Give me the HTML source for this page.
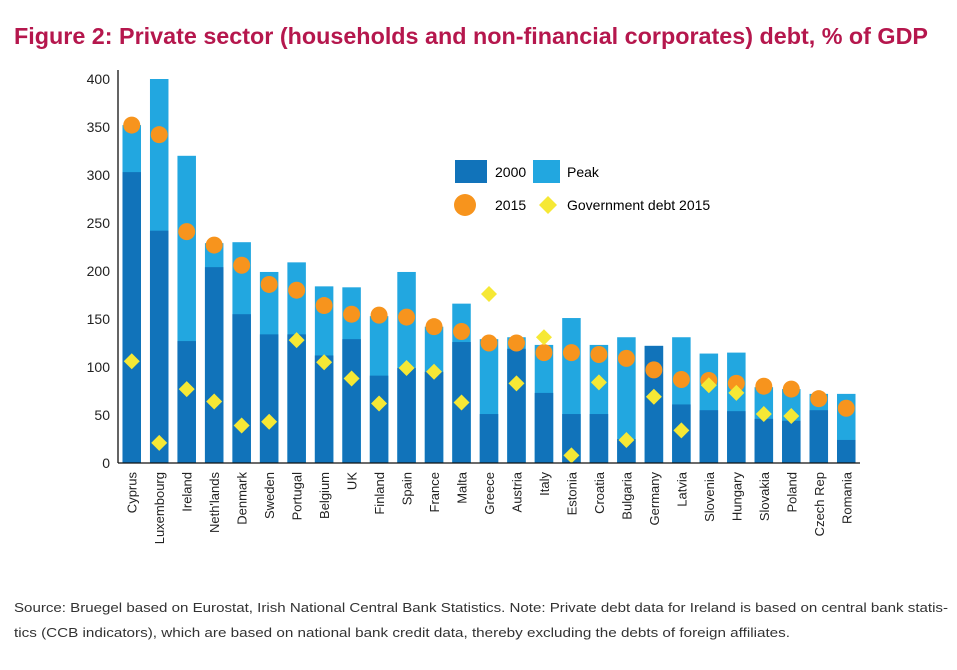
<!DOCTYPE html>
<html><head><meta charset="utf-8"><style>
body{margin:0;background:#fff;width:957px;height:665px;overflow:hidden;font-family:"Liberation Sans",sans-serif}
</style></head><body>
<svg width="957" height="665">
<text x="14" y="44" font-size="23" font-weight="bold" fill="#b5174d" textLength="914" lengthAdjust="spacingAndGlyphs">Figure 2: Private sector (households and non-financial corporates) debt, % of GDP</text>
<g id="plot"></g>
<g>
<rect x="455" y="160" width="32" height="23" fill="#1173ba"/>
<text x="495" y="177" font-size="14">2000</text>
<rect x="533" y="160" width="27" height="23" fill="#22a7e0"/>
<text x="567" y="177" font-size="14">Peak</text>
<circle cx="465" cy="205" r="11" fill="#f7941d"/>
<text x="495" y="210" font-size="14">2015</text>
<path d="M548 196 L557 205 L548 214 L539 205Z" fill="#f6e835"/>
<text x="567" y="210" font-size="14">Government debt 2015</text>
</g>
<text font-size="13" fill="#333"><tspan x="14" y="612" textLength="934" lengthAdjust="spacingAndGlyphs">Source: Bruegel based on Eurostat, Irish National Central Bank Statistics. Note: Private debt data for Ireland is based on central bank statis-</tspan><tspan x="14" y="637" textLength="776" lengthAdjust="spacingAndGlyphs">tics (CCB indicators), which are based on national bank credit data, thereby excluding the debts of foreign affiliates.</tspan></text>
</svg>
<script>
const categories=["Cyprus","Luxembourg","Ireland","Neth'lands","Denmark","Sweden","Portugal","Belgium","UK","Finland","Spain","France","Malta","Greece","Austria","Italy","Estonia","Croatia","Bulgaria","Germany","Latvia","Slovenia","Hungary","Slovakia","Poland","Czech Rep","Romania"];
const peak=[352,400,320,229,230,199,209,184,183,153,199,142,166,129,131,123,151,123,131,122,131,114,115,79,77,72,72];
const v2000=[303,242,127,204,155,134,134,112,129,91,99,95,126,51,119,73,51,51,25,122,61,55,54,46,44,55,24];
const v2015=[352,342,241,227,206,186,180,164,155,154,152,142,137,125,125,115,115,113,109,97,87,86,83,80,77,67,57];
const gov2015=[106,21,77,64,39,43,128,105,88,62,99,95,63,176,83,131,8,84,24,69,34,81,73,51,49,null,null];
const yTicks=[0,50,100,150,200,250,300,350,400];
const NS="http://www.w3.org/2000/svg";
const g=document.getElementById('plot');
const x0=118,x1=860,y0=463,y400=79;
const band=(x1-x0)/categories.length;
const xc=i=>x0+band*(i+0.5);
const y=v=>y0-(y0-y400)*v/400;
function mk(t,a){const e=document.createElementNS(NS,t);for(const k in a)e.setAttribute(k,a[k]);g.appendChild(e);return e;}
yTicks.forEach(t=>{const e=mk('text',{x:110,y:y(t)+5,'text-anchor':'end','font-size':14,fill:'#222'});e.textContent=t;

});
categories.forEach((c,i)=>{
const bw=18.5;
let r=mk('rect',{x:xc(i)-bw/2,y:y(peak[i]),width:bw,height:y(0)-y(peak[i]),fill:'#22a7e0'});


r=mk('rect',{x:xc(i)-bw/2,y:y(v2000[i]),width:bw,height:y(0)-y(v2000[i]),fill:'#1173ba'});


const t=mk('text',{transform:`translate(${xc(i)+5},472) rotate(-90)`,'text-anchor':'end','font-size':13,fill:'#222'});t.textContent=c;


});
categories.forEach((c,i)=>{
const d=mk('circle',{cx:xc(i),cy:y(v2015[i]),r:8.5,fill:'#f7941d'});


if(gov2015[i]!=null){const cy=y(gov2015[i]),cx=xc(i);
const p=mk('path',{d:`M${cx} ${cy-8}L${cx+8} ${cy}L${cx} ${cy+8}L${cx-8} ${cy}Z`,fill:'#f6e835'});

}
});
let a=mk('line',{x1:x0,y1:70,x2:x0,y2:y0,stroke:'#111','stroke-width':1.3});


a=mk('line',{x1:x0,y1:y0,x2:x1,y2:y0,stroke:'#111','stroke-width':1.3});


</script>
</body></html>
